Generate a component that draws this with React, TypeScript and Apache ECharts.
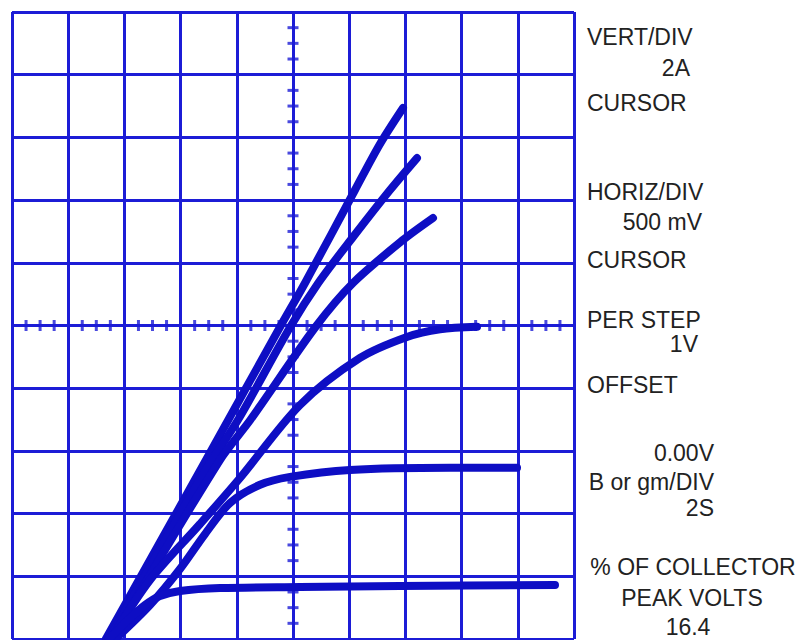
import React, { useEffect, useRef } from "react";
import * as echarts from "echarts";

// Screen divisions: 10 x 10, centred on 0
const xDivisions = [-5, 5];
const yDivisions = [-5, 5];

// Traced drain/collector family curves (x, y in screen divisions from centre)
const curveStep1 = [[-3.33, -5], [-1.548, -2.145], [-0.231, -0.024], [0.214, 0.678], [1.103, 2.161], [1.548, 2.895], [1.957, 3.469]];
const curveStep2 = [[-3.27, -5], [-1.62, -2.4], [-0.98, -1.507], [-0.05, -0.024], [0.45, 0.678], [1.068, 1.411], [1.726, 2.161], [2.206, 2.671]];
const curveStep3 = [[-3.22, -5], [-1.3, -2.145], [-0.76, -1.507], [0.4, -0.024], [1.068, 0.678], [1.957, 1.364], [2.491, 1.715]];
const curveStep4 = [[-3.24, -5], [-2.544, -4.059], [-1.655, -3.166], [-0.943, -2.432], [0.125, -1.268], [1.192, -0.518], [2.028, -0.183], [2.616, -0.06], [3.274, -0.02]];
const curveStep5 = [[-3.16, -5], [-2.544, -4.458], [-2.011, -3.884], [-1.566, -3.326], [-1.121, -2.83], [-0.587, -2.54], [-0.053, -2.415], [1.014, -2.305], [2.794, -2.27], [3.986, -2.27]];
const curveStep6 = [[-3.28, -5], [-3.078, -4.825], [-2.9, -4.665], [-2.633, -4.458], [-2.367, -4.314], [-2.011, -4.234], [-1.299, -4.187], [0.125, -4.171], [1.904, -4.155], [4.662, -4.139]];

const curves = [curveStep1, curveStep2, curveStep3, curveStep4, curveStep5, curveStep6];

// Minor graticule marks on centre lines (4 subdivisions per division)
const minorMarks: number[] = [];
for (let d = -5; d < 5; d++) {
  for (let q = 1; q < 4; q++) minorMarks.push(d + q / 4);
}

// Right-hand readout panel
const readoutTexts = [
  "VERT/DIV", "2A", "CURSOR",
  "HORIZ/DIV", "500 mV", "CURSOR",
  "PER STEP", "1V", "OFFSET",
  "0.00V", "B or gm/DIV", "2S",
  "% OF COLLECTOR", "PEAK VOLTS", "16.4",
];
const readoutLayout: [number, number, string][] = [
  [587, 37, "left"], [690, 68, "right"], [587, 103, "left"],
  [587, 192, "left"], [702, 222, "right"], [587, 260, "left"],
  [587, 320, "left"], [698, 344, "right"], [587, 385, "left"],
  [714, 453, "right"], [714, 482, "right"], [714, 508, "right"],
  [693, 567, "center"], [692, 598, "center"], [688, 627, "center"],
];

const GRID_BLUE = "#1c1cd6";
const TRACE_BLUE = "#0e0ec4";

export default function App() {
  const ref = useRef<HTMLDivElement>(null);
  useEffect(() => {
    document.body.style.margin = "0";
    const chart = echarts.init(ref.current!, null, { renderer: "svg" });
    const axisCommon = {
      type: "value" as const,
      interval: 1,
      axisLine: { show: false },
      axisTick: { show: false },
      axisLabel: { show: false },
      splitLine: { show: true, lineStyle: { color: GRID_BLUE, width: 3 } },
    };
    chart.setOption({
      animation: false,
      backgroundColor: "#ffffff",
      grid: { left: 12, top: 12, width: 562, height: 627, containLabel: false },
      xAxis: { ...axisCommon, min: xDivisions[0], max: xDivisions[1] },
      yAxis: { ...axisCommon, min: yDivisions[0], max: yDivisions[1] },
      series: [
        {
          type: "scatter",
          symbol: "rect",
          symbolSize: [3, 11],
          itemStyle: { color: GRID_BLUE },
          data: minorMarks.map((v) => [v, 0]),
          silent: true,
          z: 2,
        },
        {
          type: "scatter",
          symbol: "rect",
          symbolSize: [11, 3],
          itemStyle: { color: GRID_BLUE },
          data: minorMarks.map((v) => [0, v]),
          silent: true,
          z: 2,
        },
        ...curves.map((c) => ({
          type: "line",
          data: c,
          showSymbol: false,
          smooth: 0.3,
          lineStyle: { color: TRACE_BLUE, width: 8, cap: "round", join: "round" },
          z: 3,
          silent: true,
        })),
      ],
      graphic: readoutTexts.map((t, i) => ({
        type: "text",
        x: readoutLayout[i][0],
        y: readoutLayout[i][1],
        style: {
          text: t,
          fill: "#222222",
          font: "23px 'Liberation Sans', Arial, sans-serif",
          align: readoutLayout[i][2],
          verticalAlign: "middle",
        },
      })),
    });
    return () => chart.dispose();
  }, []);
  return <div ref={ref} style={{ width: 798, height: 640 }} />;
}
